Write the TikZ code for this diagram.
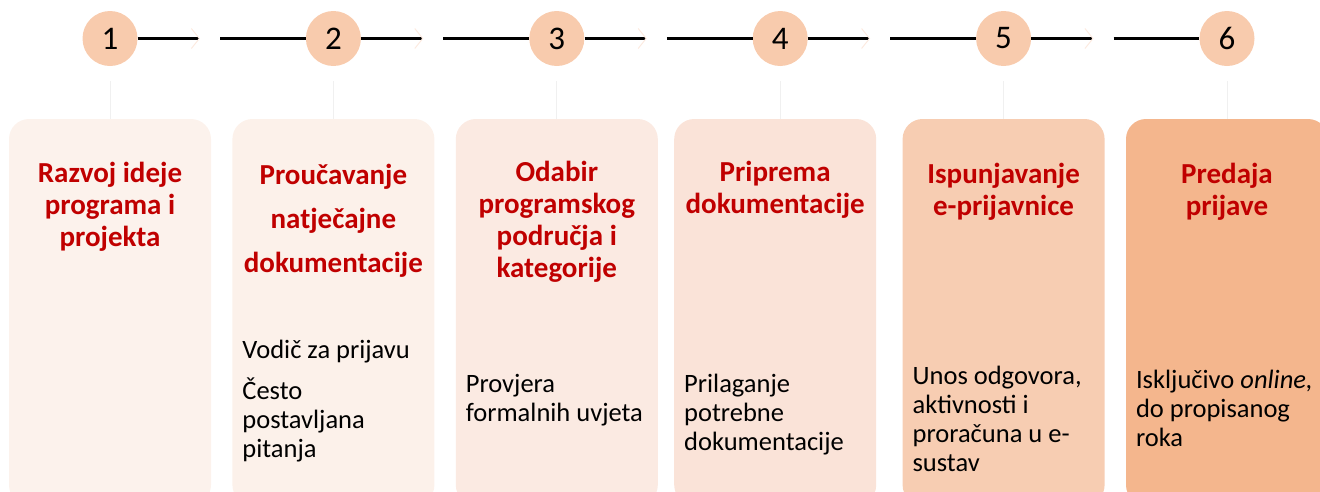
\documentclass[tikz,border=0pt]{standalone}
\usepackage{fontspec}
\setmainfont{Carlito}
\usetikzlibrary{positioning,arrows.meta}
\definecolor{krugboja}{HTML}{F8CBAD}
\definecolor{naslovboja}{HTML}{C00000}
\definecolor{boja1}{HTML}{FCF2EC}
\definecolor{boja2}{HTML}{FCF1EA}
\definecolor{boja3}{HTML}{FBEAE2}
\definecolor{boja4}{HTML}{FAE3D8}
\definecolor{boja5}{HTML}{F7CDB2}
\definecolor{boja6}{HTML}{F4B68D}
\definecolor{strelica}{HTML}{FCEAE0}
\begin{document}
\begin{tikzpicture}[x=1pt, y=-1pt, node distance=223.4pt, auto,
        krug/.style={circle, fill=krugboja, minimum size=55pt, inner sep=0pt, font=\fontsize{33}{33}\selectfont},
        okvir/.style={rounded corners=20pt, minimum width=202pt, minimum height=386pt, inner sep=0pt},
        naslov/.style={font=\bfseries\fontsize{29}{32}\selectfont, text=naslovboja, align=center, anchor=base, inner sep=0pt},
        opis/.style={font=\fontsize{26.5}{29}\selectfont, align=left, anchor=base west, inner sep=0pt},
        crta/.style={line width=2.7pt},
        veza/.style={crta, -{Straight Barb[color=strelica, length=8pt, width=20pt, line width=1pt]}},
        tanka/.style={draw=gray!12, line width=0.8pt, shorten <=15pt}]
        \clip (0,0) rectangle (1320,491);
        % Define os círculos
        \node[krug] (k1) at (110,38.5) {1};
        \node[krug, right of=k1] (k2) {2};
        \node[krug, right of=k2] (k3) {3};
        \node[krug, right of=k3] (k4) {4};
        \node[krug, right of=k4] (k5) {5};
        \node[krug, right of=k5] (k6) {6};
        % Define as caixas
        \node[okvir, fill=boja1, below of=k1, node distance=273.5pt] (o1) {};
        \node[okvir, fill=boja2, below of=k2, node distance=273.5pt] (o2) {};
        \node[okvir, fill=boja3, below of=k3, node distance=273.5pt] (o3) {};
        \node[okvir, fill=boja4, below of=k4, node distance=273.5pt, xshift=-5pt] (o4) {};
        \node[okvir, fill=boja5, below of=k5, node distance=273.5pt] (o5) {};
        \node[okvir, fill=boja6, below of=k6, node distance=273.5pt] (o6) {};
        % Pontos das setas
        \coordinate[right of=k1, node distance=90pt] (s1);
        \coordinate[right of=k1, node distance=110pt] (t1);
        \coordinate[right of=k2, node distance=90pt] (s2);
        \coordinate[right of=k2, node distance=110pt] (t2);
        \coordinate[right of=k3, node distance=90pt] (s3);
        \coordinate[right of=k3, node distance=110pt] (t3);
        \coordinate[right of=k4, node distance=90pt] (s4);
        \coordinate[right of=k4, node distance=110pt] (t4);
        \coordinate[right of=k5, node distance=90pt] (s5);
        \coordinate[right of=k5, node distance=110pt] (t5);
        % Conecta os círculos
        \draw[veza] (k1) -- (s1);
        \draw[crta] (t1) -- (k2);
        \draw[veza] (k2) -- (s2);
        \draw[crta] (t2) -- (k3);
        \draw[veza] (k3) -- (s3);
        \draw[crta] (t3) -- (k4);
        \draw[veza] (k4) -- (s4);
        \draw[crta] (t4) -- (k5);
        \draw[veza] (k5) -- (s5);
        \draw[crta] (t5) -- (k6);
        % Linhas finas até as caixas
        \draw[tanka] (k1) -- (o1);
        \draw[tanka] (k2) -- (o2);
        \draw[tanka] (k3) -- (o3);
        \draw[tanka] (k4) -- (k4 |- o4.north);
        \draw[tanka] (k5) -- (o5);
        \draw[tanka] (k6) -- (o6);
        % Adiciona os títulos
        \node[naslov] (n1) at ([yshift=-128pt]o1.north) {Razvoj ideje\\programa i\\projekta};
        \node[naslov] (n2) at ([yshift=-154pt]o2.north) {Proučavanje\\[12pt]natječajne\\[12pt]dokumentacije};
        \node[naslov] (n3) at ([yshift=-159pt]o3.north) {Odabir\\programskog\\područja i\\kategorije};
        \node[naslov] (n4) at ([yshift=-95pt]o4.north) {Priprema\\dokumentacije};
        \node[naslov] (n5) at ([yshift=-97pt]o5.north) {Ispunjavanje\\e-prijavnice};
        \node[naslov] (n6) at ([yshift=-97pt]o6.north) {Predaja\\prijave};
        % Adiciona as descrições
        \node[opis] (d2) at ([xshift=10pt, yshift=-339pt]o2.north west) {Vodič za prijavu\\[12pt]Često\\postavljana\\pitanja};
        \node[opis] (d3) at ([xshift=10pt, yshift=-303pt]o3.north west) {Provjera\\formalnih uvjeta};
        \node[opis] (d4) at ([xshift=10pt, yshift=-332pt]o4.north west) {Prilaganje\\potrebne\\dokumentacije};
        \node[opis] (d5) at ([xshift=10pt, yshift=-353pt]o5.north west) {Unos odgovora,\\aktivnosti i\\proračuna u e-\\sustav};
        \node[opis] (d6) at ([xshift=10pt, yshift=-328pt]o6.north west) {Isključivo \textit{online,}\\do propisanog\\roka};
    \end{tikzpicture}
\end{document}
